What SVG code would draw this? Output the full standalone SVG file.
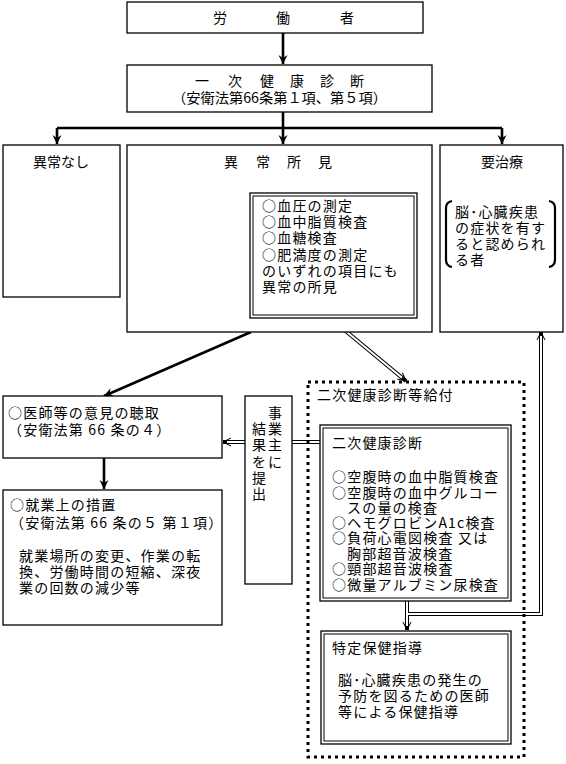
<svg xmlns="http://www.w3.org/2000/svg" width="566" height="764" viewBox="0 0 566 764">
<defs>
<style>
.t{font-family:"Noto Sans CJK JP","Noto Sans CJK SC",sans-serif;font-size:14px;letter-spacing:1.2px;fill:#000}
.m{text-anchor:middle;letter-spacing:0}
.box{fill:#fff;stroke:#000;stroke-width:1.3}
.ln{fill:none;stroke:#000;stroke-width:1}
.solid{fill:none;stroke:#000;stroke-width:2.6}
.dblB{fill:none;stroke:#000;stroke-width:4}
.dblW{fill:none;stroke:#fff;stroke-width:2}
.dot{fill:none;stroke:#000;stroke-width:3;stroke-dasharray:3 4}
.br{fill:none;stroke:#000;stroke-width:2.2}
</style>
<marker id="ah" markerUnits="userSpaceOnUse" markerWidth="12" markerHeight="12" viewBox="-10 -6 12 12" refX="0" refY="0" orient="auto">
<path d="M-9,-4.5 L0,0 L-9,4.5 L-6,0 z" fill="#000"/>
</marker>
<marker id="oh" markerUnits="userSpaceOnUse" markerWidth="12" markerHeight="12" viewBox="-10 -6 12 12" refX="0" refY="0" orient="auto">
<path d="M-8,-4 L0,0 L-8,4" fill="none" stroke="#000" stroke-width="1"/>
</marker>
</defs>
<rect x="0" y="0" width="566" height="764" fill="#fff"/>

<g id="connectors">
<path class="solid" d="M283,33 V64" marker-end="url(#ah)"/>
<path class="solid" d="M283,112 V128 M57,128 H502"/>
<path class="solid" d="M57,128 V144" marker-end="url(#ah)"/>
<path class="solid" d="M283,128 V144" marker-end="url(#ah)"/>
<path class="solid" d="M502,128 V144" marker-end="url(#ah)"/>
<path class="solid" d="M251,332 L104,396" marker-end="url(#ah)"/>
<path class="solid" d="M104,458 V489" marker-end="url(#ah)"/>
<path class="dblB" d="M330,318 L406,381" marker-end="url(#oh)"/>
<path class="dblB" d="M321,442 H292"/>
<path class="dblB" d="M245,442 H223" marker-end="url(#oh)"/>
<path class="dblB" d="M407,601 V630" marker-end="url(#oh)"/>
<path class="dblB" d="M407,614 H541 V332" marker-end="url(#oh)"/>
<path class="dblW" d="M330,318 L402,377.7"/>
<path class="dblW" d="M322,442 H291"/>
<path class="dblW" d="M246,442 H227"/>
<path class="dblW" d="M407,600 V626"/>
<path class="dblW" d="M407,614 H541 V336"/>
</g>

<g id="worker">
<rect class="box" x="127" y="2" width="296" height="31"/>
<text class="t m" x="220 283 347" y="23">労働者</text>
</g>

<g id="primary-exam">
<rect class="box" x="127" y="65" width="305" height="47"/>
<text class="t m" x="202 235 267 297 327 357" y="86">一次健康診断</text>
<text class="t" x="172" y="103" style="letter-spacing:0" textLength="215" lengthAdjust="spacingAndGlyphs">（安衛法第66条第１項、第５項）</text>
</g>

<g id="no-abnormality">
<rect class="box" x="3" y="145" width="117" height="152"/>
<text class="t m" x="61" y="167">異常なし</text>
</g>

<g id="abnormal-findings">
<rect class="box" x="127" y="145" width="305" height="187"/>
<text class="t m" x="231 263 294 325" y="167">異常所見</text>
<rect class="box" x="250" y="193" width="167" height="125"/>
<rect class="ln" x="253" y="196" width="161" height="119"/>
<text class="t" x="262" y="211">○血圧の測定</text>
<text class="t" x="262" y="227">○血中脂質検査</text>
<text class="t" x="262" y="243">○血糖検査</text>
<text class="t" x="262" y="260">○肥満度の測定</text>
<text class="t" x="262" y="276">のいずれの項目にも</text>
<text class="t" x="262" y="292">異常の所見</text>
</g>

<g id="needs-treatment">
<rect class="box" x="440" y="145" width="123" height="187"/>
<text class="t m" x="502" y="167">要治療</text>
<path class="br" d="M452,201 Q446,202 446,208 V260 Q446,266 452,267"/>
<path class="br" d="M549,201 Q555,202 555,208 V260 Q555,266 549,267"/>
<text class="t" x="455" y="217">脳･心臓疾患</text>
<text class="t" x="455" y="233">の症状を有す</text>
<text class="t" x="455" y="249">ると認められ</text>
<text class="t" x="455" y="265">る者</text>
</g>

<g id="doctor-opinion">
<rect class="box" x="3" y="396" width="219" height="62"/>
<text class="t" x="8" y="418">○医師等の意見の聴取</text>
<text class="t" x="8" y="435">（安衛法第 66 条の４）</text>
</g>

<g id="work-measures">
<rect class="box" x="3" y="490" width="219" height="135"/>
<text class="t" x="10" y="510">○就業上の措置</text>
<text class="t" x="10" y="528">（安衛法第 66 条の５ 第１項）</text>
<text class="t" x="19" y="561">就業場所の変更、作業の転</text>
<text class="t" x="19" y="577">換、労働時間の短縮、深夜</text>
<text class="t" x="19" y="593">業の回数の減少等</text>
</g>

<g id="submit-to-employer">
<rect class="box" x="245" y="396" width="47" height="188"/>
<text class="t m" x="275 275 275 275" y="418 434 450 467">事業主に</text>
<text class="t m" x="259 259 259 259 259" y="434 450 467 483 499">結果を提出</text>
</g>

<g id="secondary-benefits">
<rect class="dot" x="308" y="382" width="216" height="375"/>
<text class="t" x="317" y="400">二次健康診断等給付</text>
</g>

<g id="secondary-exam">
<rect class="box" x="320" y="425" width="191" height="176"/>
<rect class="ln" x="323" y="428" width="185" height="170"/>
<text class="t" x="332" y="448">二次健康診断</text>
<text class="t" x="332" y="482">○空腹時の血中脂質検査</text>
<text class="t" x="332" y="498">○空腹時の血中グルコー</text>
<text class="t" x="347" y="513">スの量の検査</text>
<text class="t" x="332" y="528">○ヘモグロビンA1c検査</text>
<text class="t" x="332" y="543">○負荷心電図検査 又は</text>
<text class="t" x="347" y="559">胸部超音波検査</text>
<text class="t" x="332" y="574">○頸部超音波検査</text>
<text class="t" x="332" y="590">○微量アルブミン尿検査</text>
</g>

<g id="specific-guidance">
<rect class="box" x="321" y="631" width="190" height="113"/>
<rect class="ln" x="324" y="634" width="184" height="107"/>
<text class="t" x="332" y="653">特定保健指導</text>
<text class="t" x="338" y="685">脳･心臓疾患の発生の</text>
<text class="t" x="338" y="701">予防を図るための医師</text>
<text class="t" x="338" y="717">等による保健指導</text>
</g>
</svg>
